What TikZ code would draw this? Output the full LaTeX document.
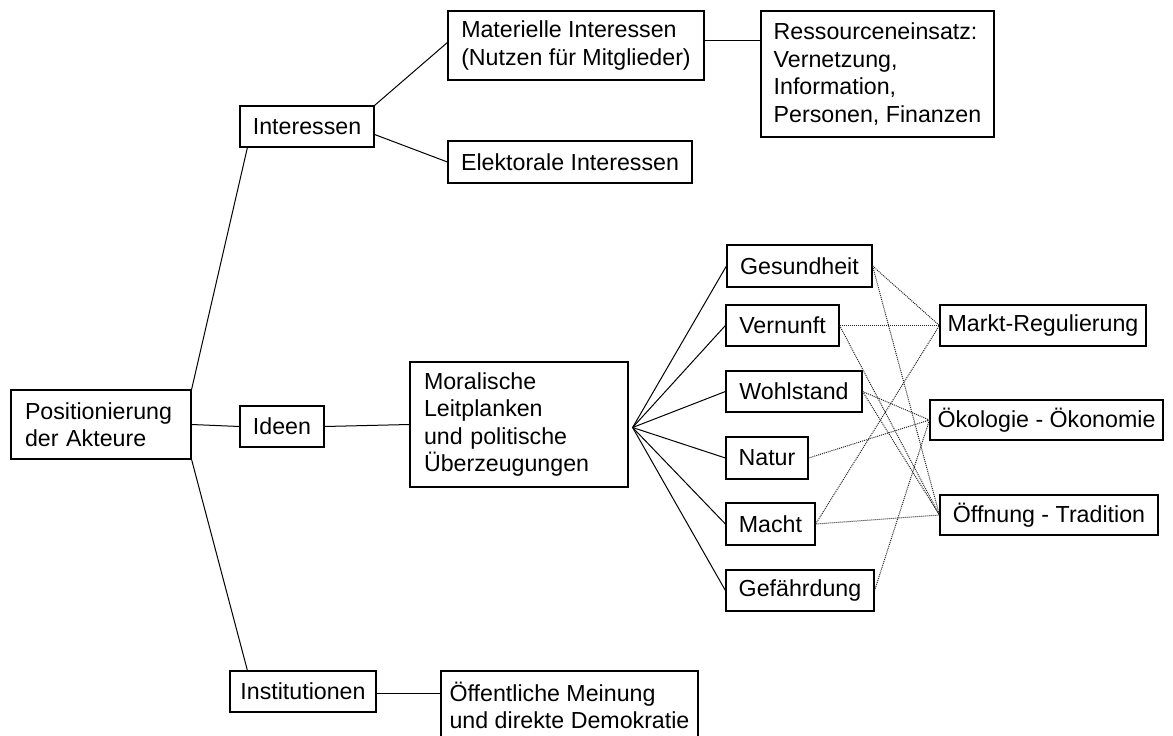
\documentclass[tikz,border=0pt]{standalone}
\usepackage{fontspec}
\setmainfont{Liberation Sans}
\begin{document}
\begin{tikzpicture}[x=1pt, y=-1pt,
  box/.style={draw, line width=1.2pt, align=left, inner sep=0pt,
    font=\fontsize{23.2}{27.5}\selectfont},
  link/.style={line width=1pt},
  dotlink/.style={densely dotted, black!85, line width=1pt}]
\useasboundingbox (0,0) rectangle (1173,736);

\node[box, inner xsep=14pt, text width=152pt, minimum height=69pt] at (101,424.5) (pos) {Positionierung\\der Akteure};
\node[box, minimum width=134pt, minimum height=41pt] at (307,126.5) (inter) {Interessen};
\node[box, minimum width=84pt, minimum height=41pt] at (282,426.5) (ideen) {Ideen};
\node[box, minimum width=146pt, minimum height=41pt] at (303,691.5) (inst) {Institutionen};
\node[box, minimum width=256pt, minimum height=69pt] at (576,45.5) (mat) {Materielle Interessen\\(Nutzen für Mitglieder)};
\node[box, minimum width=244pt, minimum height=42pt] at (570,162) (elek) {Elektorale Interessen};
\node[box, minimum width=233pt, minimum height=126pt] at (877.5,74) (ress) {Ressourceneinsatz:\\Vernetzung,\\Information,\\Personen, Finanzen};
\node[box, inner xsep=14pt, text width=190pt, minimum height=125pt] at (519,424.5) (moral) {Moralische\\Leitplanken\\und politische\\Überzeugungen};
\node[box, minimum width=257pt, minimum height=69pt] at (569.5,705.5) (oeff) {Öffentliche Meinung\\und direkte Demokratie};

\node[box, minimum width=145pt, minimum height=42pt] at (799.5,266) (gesund) {Gesundheit};
\node[box, minimum width=113pt, minimum height=41pt] at (782.5,325.5) (vern) {Vernunft};
\node[box, minimum width=136pt, minimum height=41pt] at (794,391.5) (wohl) {Wohlstand};
\node[box, minimum width=82pt, minimum height=42pt] at (767,458) (natur) {Natur};
\node[box, minimum width=89pt, minimum height=42pt] at (770.5,524) (macht) {Macht};
\node[box, minimum width=148pt, minimum height=41pt] at (800,590.5) (gefahr) {Gefährdung};

\node[box, minimum width=206pt, minimum height=41pt] at (1043,325.5) (markt) {Markt-Regulierung};
\node[box, minimum width=233pt, minimum height=40pt] at (1046.5,420) (oeko) {Ökologie - Ökonomie};
\node[box, minimum width=218pt, minimum height=40pt] at (1049,515) (oeffn) {Öffnung - Tradition};

% main branches
\draw[link] (pos.north east) -- ([xshift=8pt]inter.south west);
\draw[link] (pos.east) -- (ideen.west);
\draw[link] (pos.south east) -- ([xshift=18pt]inst.north west);
\draw[link] (inter.north east) -- ([yshift=3pt]mat.west);
\draw[link] ([yshift=-8pt]inter.east) -- (elek.west);
\draw[link] ([yshift=5pt]mat.east) -- ([yshift=5pt]mat.east -| ress.west);
\draw[link] (ideen.east) -- (moral.west);
\draw[link] ([yshift=-1.5pt]inst.east) -- ([yshift=-1.5pt]inst.east -| oeff.west);

% fan to the values
\coordinate (fan) at ([xshift=4pt,yshift=-3pt]moral.east);
\foreach \v in {gesund, vern, wohl, natur, macht, gefahr}
  \draw[link] (fan) -- (\v.west);

% dotted cross links
\foreach \a/\b in {gesund/markt, gesund/oeffn, vern/markt, vern/oeffn, wohl/oeko,
  wohl/oeffn, natur/oeko, macht/markt, macht/oeffn, gefahr/oeko}
  \draw[dotlink] (\a.east) -- (\b.west);
\end{tikzpicture}
\end{document}
